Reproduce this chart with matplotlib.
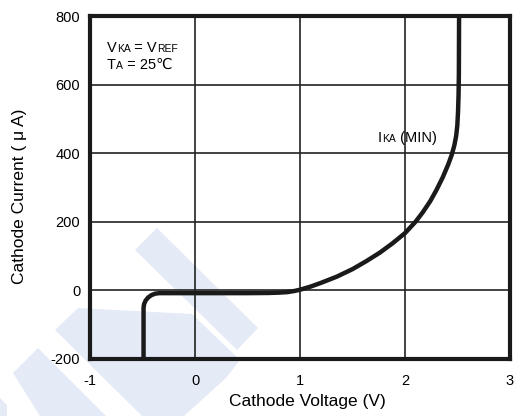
import numpy as np
import matplotlib
matplotlib.use('Agg')
import matplotlib.pyplot as plt
from matplotlib.patches import Polygon

plt.rcParams['font.family'] = ['Liberation Sans', 'DejaVu Sans']
plt.rcParams['axes.unicode_minus'] = False

# I_KA(min) curve
volts = [-0.49, -0.49, -0.485, -0.47, -0.446, -0.415, -0.379, -0.34, 0.0, 0.5, 0.7,
         0.8, 0.88, 0.95, 1.0, 1.1, 1.2, 1.35, 1.5, 1.63, 1.76, 1.88, 2.0, 2.1,
         2.17, 2.24, 2.3, 2.36, 2.41, 2.445, 2.47, 2.487, 2.498, 2.505, 2.51,
         2.513, 2.515]
current = [-200, -51, -39.9, -29.5, -20.6, -13.8, -9.5, -8, -8, -8, -7.5,
           -6.5, -5, -1.5, 2, 11, 22, 40, 62, 85, 110, 137, 167, 200,
           228, 260, 293, 330, 366, 395, 423, 450, 480, 520, 570,
           630, 800]

xticks = [-1, 0, 1, 2, 3]
yticks = [-200, 0, 200, 400, 600, 800]

# light blue watermark stripes (image pixels)
marks = [
    [(135, 250), (157, 228), (258, 328), (237, 350)],
    [(55, 330), (78, 308), (192, 314), (240, 360), (226, 378), (184, 416), (142, 416)],
    [(13, 373), (38, 348), (106, 416), (40, 416)],
    [(0, 398), (7, 405), (7, 416), (0, 416)],
]

W, H = 514, 416
fig = plt.figure(figsize=(W / 100, H / 100), dpi=100)
ax = fig.add_axes([90 / W, 1 - 359 / H, 420 / W, 343 / H])
ax.patch.set_alpha(0)

for pts in marks:
    fig.patches.append(Polygon([(px / W, 1 - py / H) for px, py in pts], closed=True,
                               transform=fig.transFigure, facecolor='#e4ebf7',
                               edgecolor='none', zorder=-5))

ax.plot(volts, current, color='#1a1a1a', lw=3.2, solid_capstyle='butt',
        solid_joinstyle='round', zorder=3)

ax.set_xlim(-1, 3)
ax.set_ylim(-200, 800)
ax.set_xticks(xticks)
ax.set_yticks(yticks)
ax.grid(True, color='#222222', lw=1.2)
ax.tick_params(length=0, labelsize=10.5, colors='black')
ax.tick_params(axis='x', pad=11)
ax.tick_params(axis='y', pad=7)
for s in ax.spines.values():
    s.set_linewidth(3)
    s.set_color('#1a1a1a')

ax.set_xlabel('Cathode Voltage (V)', fontsize=12.5, va='center')
ax.xaxis.set_label_coords(0.517, -0.125)
ax.set_ylabel('Cathode Current ( \u03bc A)', fontsize=12.5, va='center')
ax.yaxis.set_label_coords(-0.167, 0.475)

fig.canvas.draw()
r = fig.canvas.get_renderer()


def put_parts(x, y, parts):
    for s, size in parts:
        t = fig.text(x / W, 1 - y / H, s, fontsize=size, va='baseline', ha='left')
        x += t.get_window_extent(r).width


put_parts(107, 52, [('V', 10.5), ('KA', 7.5), (' = V', 10.5), ('REF', 7.5)])
put_parts(107, 69, [('T', 10.5), ('A', 7.5), (' = 25\u2103', 10.5)])
put_parts(378, 142, [('I', 10.5), ('KA', 7.5), (' (MIN)', 10.5)])

fig.savefig('out.png', dpi=100)
